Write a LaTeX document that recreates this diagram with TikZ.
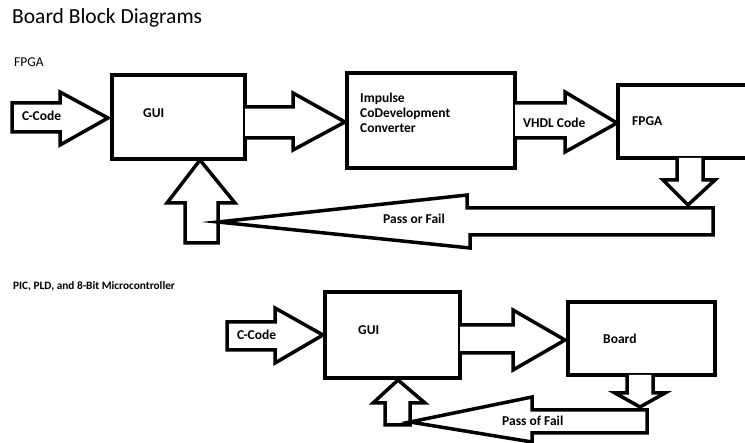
\documentclass[tikz,border=0pt]{standalone}
\usepackage{fontspec}
\setmainfont{Carlito}
\begin{document}
\begin{tikzpicture}[x=1pt,y=-1pt,
  blk/.style={draw=black,line width=3.5pt,fill=white,line join=miter},
  lbl/.style={anchor=base west,inner sep=0pt,font=\bfseries\fontsize{13.5}{15}\selectfont},
  hdr/.style={anchor=base west,inner sep=0pt}]
\useasboundingbox (0,0) rectangle (745,443);
\clip (0,0) rectangle (745,443);
% titles
\node[hdr,font=\fontsize{21.5}{23}\selectfont] (title) at (12,24) {Board Block Diagrams};
\node[hdr,font=\fontsize{13.5}{15}\selectfont] (hfpga) at (14,67) {FPGA};
\node[hdr,font=\bfseries\fontsize{11.3}{13}\selectfont] (hpic) at (13,290) {PIC, PLD, and 8-Bit Microcontroller};

% ---------- top diagram ----------
% boxes
\draw[blk] (112,75) rectangle (245,159);
\draw[blk] (347,73) rectangle (515,168);
\draw[blk] (760,85) -- (618,85) -- (618,158) -- (760,158);
% C-Code arrow
\draw[blk] (12,103) -- (60,103) -- (60,92) -- (108,118) -- (60,145) -- (60,132) -- (12,132) -- cycle;
% GUI -> Impulse
\draw[blk] (245,107) -- (293,107) -- (293,93) -- (345,122) -- (293,150) -- (293,138) -- (245,138);
% VHDL
\draw[blk] (515,103) -- (565,103) -- (565,92) -- (617,123) -- (565,152) -- (565,138) -- (515,138);
% FPGA down arrow
\draw[blk] (677,158) -- (677,180) -- (663,180) -- (688,205) -- (715,180) -- (703,180) -- (703,158);
% up arrow into GUI
\draw[blk] (200,160) -- (235,203) -- (218,203) -- (218,243) -- (185,243) -- (185,203) -- (167,203) -- cycle;
% pass or fail
\draw[blk] (218,222) -- (467,195) -- (467,208) -- (713,208) -- (713,235) -- (470,235) -- (470,248) -- cycle;

\node[lbl] (cc1) at (22,121) {C-Code};
\node[lbl] (g1) at (143,118) {GUI};
\node[lbl] (imp1) at (360,103) {Impulse};
\node[lbl] (imp2) at (360,118) {CoDevelopment};
\node[lbl] (imp3) at (360,133) {Converter};
\node[lbl] (vhdl) at (523,128) {VHDL Code};
\node[lbl] (fp) at (632,126) {FPGA};
\node[lbl] (pf1) at (383,224) {Pass or Fail};

% ---------- bottom diagram ----------
\draw[blk] (325,292) rectangle (460,378);
\draw[blk] (568,302) rectangle (715,375);
% C-Code arrow
\draw[blk] (227,322) -- (275,322) -- (275,308) -- (323,335) -- (275,363) -- (275,350) -- (227,350) -- cycle;
% GUI -> Board
\draw[blk] (460,325) -- (513,325) -- (513,310) -- (565,340) -- (513,370) -- (513,353) -- (460,353);
% Board down arrow
\draw[blk] (627,375) -- (627,393) -- (615,393) -- (640,407) -- (665,393) -- (653,393) -- (653,375);
% up arrow
\draw[blk] (398,380) -- (425,403) -- (410,403) -- (410,425) -- (385,425) -- (385,403) -- (373,403) -- cycle;
% pass of fail
\draw[blk] (410,422) -- (532,397) -- (532,410) -- (647,410) -- (647,433) -- (532,433) -- (532,442) -- cycle;

\node[lbl] (cc2) at (237,340) {C-Code};
\node[lbl] (g2) at (358,335) {GUI};
\node[lbl] (bd) at (603,344) {Board};
\node[lbl] (pf2) at (502,426) {Pass of Fail};
\end{tikzpicture}
\end{document}
